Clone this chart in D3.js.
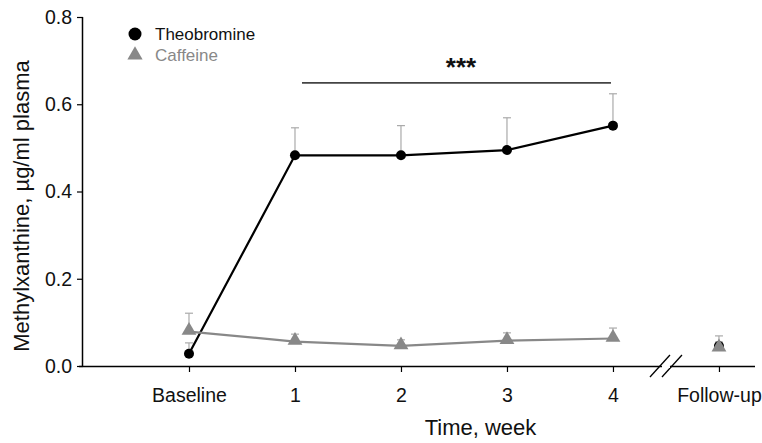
<!DOCTYPE html>
<html><head><meta charset="utf-8">
<script src="https://cdn.jsdelivr.net/npm/d3@7"></script>
<style>body{margin:0;background:#fff}svg{display:block;font-family:"Liberation Sans",Arial,sans-serif}</style>
</head><body><svg id="c" width="762" height="443"></svg>
<script>
const categories = ["Baseline", "1", "2", "3", "4", "Follow-up"];
const theobromine = [0.028, 0.483, 0.483, 0.495, 0.551, 0.046];
const theobromineErr = [0.053, 0.546, 0.551, 0.569, 0.624, 0.069];
const caffeine = [0.079, 0.056, 0.046, 0.058, 0.063, 0.041];
const caffeineErr = [0.121, 0.073, 0.060, 0.076, 0.087, 0.055];
const yTicks = [0, 0.2, 0.4, 0.6, 0.8];
const connected = [0, 1, 2, 3, 4];

const svg = d3.select("#c");
const x = d3.scaleLinear().domain([0, 6.34]).range([83, 755]);
const y = d3.scaleLinear().domain([0, 0.8]).range([366, 17]);
const pos = i => x(i + 1);
const FF = "Liberation Sans, Arial, sans-serif";

// axes
const ya = svg.append("g").attr("transform", "translate(83,0)")
  .call(d3.axisLeft(y).tickValues(yTicks).tickFormat(d3.format(".1f")).tickSize(6).tickPadding(5));
ya.select(".domain").attr("stroke", "#000").attr("stroke-width", 1.5).attr("d", "M-0.5,17V366");
ya.selectAll(".tick line").attr("stroke-width", 1.2);
ya.selectAll("text").attr("font-size", 19.5).attr("fill", "#111").attr("font-family", FF);

const xa = svg.append("g").attr("transform", "translate(0,366)")
  .call(d3.axisBottom(x).tickValues(categories.map((c, i) => i + 1)).tickFormat((d, i) => categories[i]).tickSize(6).tickPadding(16));
xa.select(".domain").attr("stroke", "#000").attr("stroke-width", 1.5).attr("d", "M79,0.5H755");
xa.selectAll(".tick line").attr("stroke-width", 1.2);
xa.selectAll("text").attr("font-size", 19.5).attr("fill", "#111").attr("font-family", FF);

// axis break
const bx = x(5.5);
[-6, 6].forEach(o => {
  svg.append("line").attr("x1", bx + o - 10).attr("y1", 377).attr("x2", bx + o + 10).attr("y2", 355)
    .attr("stroke", "#000").attr("stroke-width", 1.3);
});
svg.append("line").attr("x1", bx - 4).attr("y1", 366.5).attr("x2", bx + 4).attr("y2", 366.5).attr("stroke", "#fff").attr("stroke-width", 3);

// labels
svg.append("text").attr("x", x(3.75)).attr("y", 435).attr("text-anchor", "middle")
  .attr("font-size", 22).attr("fill", "#111").text("Time, week");
svg.append("text").attr("transform", "translate(29,206) rotate(-90)").attr("text-anchor", "middle")
  .attr("font-size", 22).attr("fill", "#111").text("Methylxanthine, µg/ml plasma");

// error bars
function errBars(vals, errs, color) {
  vals.forEach((v, i) => {
    svg.append("line").attr("x1", pos(i)).attr("x2", pos(i)).attr("y1", y(v)).attr("y2", y(errs[i]))
      .attr("stroke", color).attr("stroke-width", 1.2);
    svg.append("line").attr("x1", pos(i) - 4).attr("x2", pos(i) + 4).attr("y1", y(errs[i])).attr("y2", y(errs[i]))
      .attr("stroke", color).attr("stroke-width", 1.2);
  });
}
errBars(theobromine, theobromineErr, "#aaa");
errBars(caffeine, caffeineErr, "#aaa");

const line = d3.line().x(i => pos(i));
svg.append("path").attr("d", line.y(i => y(theobromine[i]))(connected)).attr("fill", "none").attr("stroke", "#000").attr("stroke-width", 2.2);
svg.append("path").attr("d", line.y(i => y(caffeine[i]))(connected)).attr("fill", "none").attr("stroke", "#888").attr("stroke-width", 2.2);

svg.selectAll(".tp").data(theobromine).enter().append("circle")
  .attr("cx", (d, i) => pos(i)).attr("cy", d => y(d)).attr("r", 5).attr("fill", "#000");
const tri = d3.symbol().type(d3.symbolTriangle).size(95);
svg.selectAll(".cp").data(caffeine).enter().append("path")
  .attr("d", tri).attr("transform", (d, i) => `translate(${pos(i)},${y(d) - 1})`).attr("fill", "#888");

// significance
svg.append("line").attr("x1", pos(1) + 7).attr("x2", pos(4) - 2).attr("y1", y(0.649)).attr("y2", y(0.649))
  .attr("stroke", "#444").attr("stroke-width", 1.8);
svg.append("text").attr("x", (pos(1) + pos(4)) / 2 + 7).attr("y", 76).attr("text-anchor", "middle")
  .attr("font-size", 26).attr("font-weight", "bold").attr("fill", "#111").text("***");

// legend
svg.append("circle").attr("cx", 135).attr("cy", 34).attr("r", 6.5).attr("fill", "#000");
svg.append("path").attr("d", d3.symbol().type(d3.symbolTriangle).size(100)).attr("transform", "translate(135,55)").attr("fill", "#888");
svg.append("text").attr("x", 155).attr("y", 40).attr("font-size", 17).attr("fill", "#111").text("Theobromine");
svg.append("text").attr("x", 155).attr("y", 61).attr("font-size", 17).attr("fill", "#888").text("Caffeine");
</script></body></html>
